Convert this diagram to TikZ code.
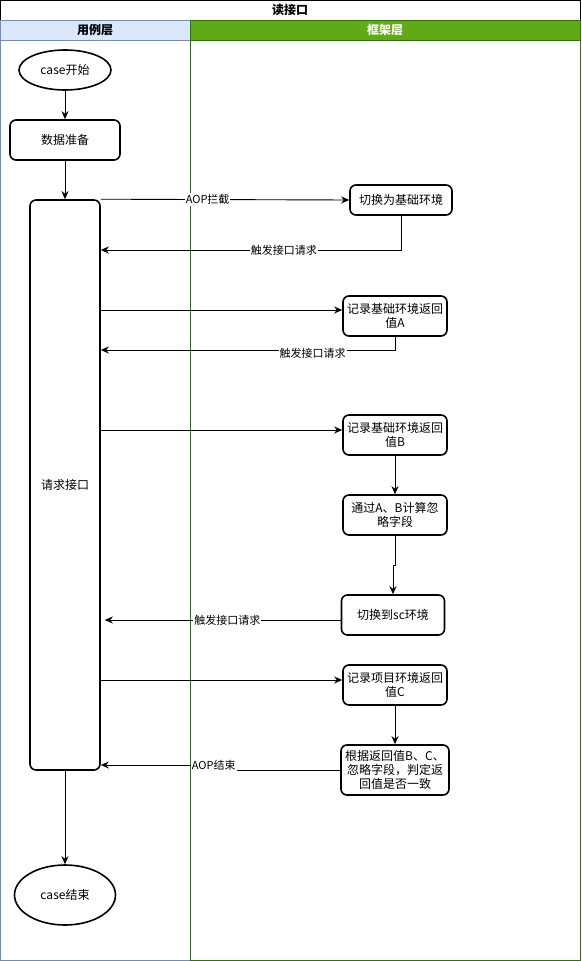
\documentclass[tikz,border=0pt]{standalone}
\usepackage{fontspec}
\setmainfont{Noto Sans CJK SC}
\usepackage{tikz}
\usetikzlibrary{arrows.meta,positioning,shapes.geometric}
\definecolor{caselane}{HTML}{DAE8FC}
\definecolor{caseborder}{HTML}{6C8EBF}
\definecolor{framelane}{HTML}{60A917}
\definecolor{frameborder}{HTML}{2D7600}

\begin{document}
\begin{tikzpicture}[
  x=1pt,y=-1pt,
  b/.style={draw,line width=1.6pt,rounded corners=6pt,align=center,
    font=\fontsize{12}{14}\selectfont,inner sep=1pt},
  proc/.style={b,minimum width=104pt,minimum height=40pt},
  term/.style={draw,line width=1.6pt,ellipse,font=\fontsize{12}{14}\selectfont,
    inner sep=0pt},
  lbl/.style={fill=white,inner sep=1pt,font=\fontsize{11}{13}\selectfont},
  arrow/.style={-{Stealth[length=8pt,width=7pt,inset=2.5pt]},line width=0.9pt}
]
\useasboundingbox (0,0) rectangle (581,961);

% lanes
\draw[line width=1pt] (0.5,0.5) rectangle (580,960);
\node[font=\bfseries\fontsize{12}{14}\selectfont] (title) at (290,10) {读接口};
\draw[caseborder,fill=caselane,line width=1pt] (0.5,20) rectangle (190,40);
\draw[caseborder,line width=1pt] (0.5,40) -- (0.5,960) -- (190,960);
\draw[frameborder,fill=framelane,line width=1pt] (190,20) rectangle (580,40);
\draw[frameborder,line width=1pt] (190,40) -- (190,960) -- (580,960) -- (580,40);
\node[font=\bfseries\fontsize{12}{14}\selectfont] (caselayer) at (95,30) {用例层};
\node[font=\bfseries\fontsize{12}{14}\selectfont,text=white] (framelayer) at (385,30) {框架层};

% case lane
\node[term,minimum width=92pt,minimum height=40pt] (start) at (65,70) {case开始};
\node[proc,minimum width=110pt] (prep) at (65,140) {数据准备};
\node[b,minimum width=70pt,minimum height=570pt] (req) at (65,485) {请求接口};
\node[term,minimum width=101pt,minimum height=60pt] (end) at (65,895) {case结束};

% frame lane
\node[proc,minimum width=102pt,minimum height=30pt] (base) at (401,200) {切换为基础环境};
\node[proc] (valA) at (395,316) {记录基础环境返回\\值A};
\node[proc] (valB) at (395,435) {记录基础环境返回\\值B};
\node[proc] (ignore) at (395,515) {通过A、B计算忽\\略字段};
\node[proc,minimum width=103pt] (sc) at (393,615) {切换到sc环境};
\node[proc] (valC) at (395,685) {记录项目环境返回\\值C};
\node[proc,minimum width=108pt,minimum height=50pt] (verdict) at (395,770)
  {根据返回值B、C、\\忽略字段，判定返\\回值是否一致};

\draw[arrow] (start) -- (prep);
\draw[arrow] (prep) -- (req);
\draw[arrow] (req.north east) -- node[lbl,pos=0.43]{AOP拦截} (base.west);
\draw[arrow] (base.south) |- node[lbl,pos=0.695]{触发接口请求} (req.east |- 0,250);
\draw[arrow] (req.east |- 0,310) -- (valA.west |- 0,310);
\draw[arrow] (valA.south) |- node[lbl,pos=0.64,yshift=-3pt]{触发接口请求} (req.east |- 0,350);
\draw[arrow] (req.east |- 0,430) -- (valB.west |- 0,430);
\draw[arrow] (valB) -- (ignore);
\draw[arrow] (ignore.south) -- ++(0,30) -| (sc.north);
\draw[arrow] (sc.west |- 0,620) -- node[lbl,pos=0.48]{触发接口请求} ([xshift=4pt]req.east |- 0,620);
\draw[arrow] (req.east |- 0,680) -- (valC.west |- 0,680);
\draw[arrow] (valC) -- (verdict);
\draw[arrow] (verdict.west) -- ++(-105,0) |- node[lbl,pos=0.58]{AOP结束} (req.east |- 0,765);
\draw[arrow] (req) -- (end);
\end{tikzpicture}
\end{document}
